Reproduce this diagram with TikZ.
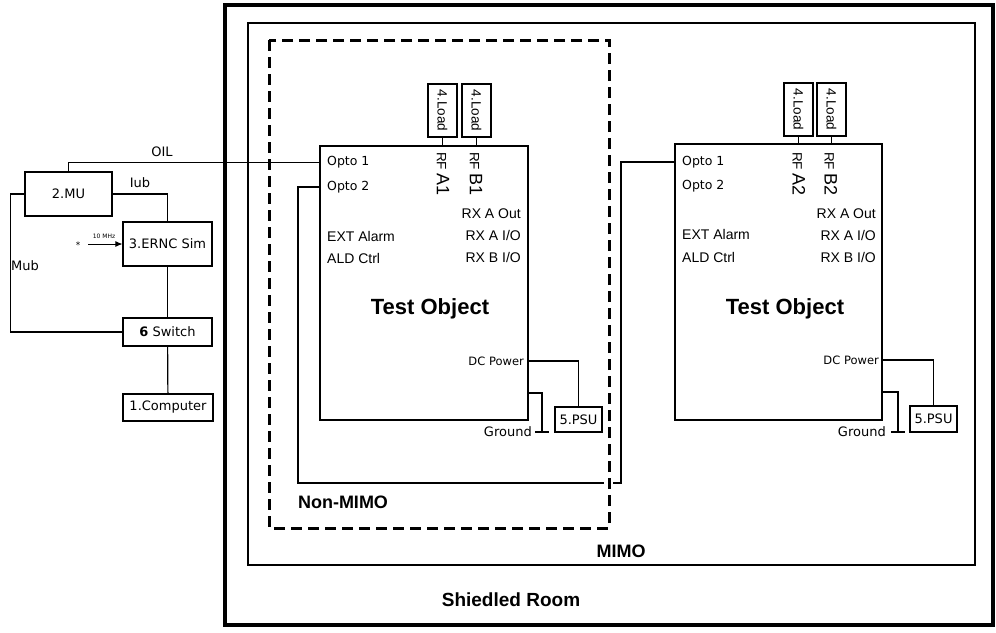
\documentclass[tikz,border=0pt]{standalone}
\usepackage{fontspec}
\setmainfont{Liberation Sans}
\newfontfamily\dv{DejaVu Sans}
\usetikzlibrary{arrows.meta}
\tikzset{
  box/.style={draw, line width=1.2pt, inner sep=0pt, fill=white},
  wire/.style={line width=1.2pt},
  thickwire/.style={line width=2.4pt},
  lbl/.style={inner sep=0pt, font=\dv\fontsize{13}{15}\selectfont},
  pin/.style={inner sep=0pt, font=\dv\fontsize{12.5}{14}\selectfont},
  apin/.style={inner sep=0pt, font=\fontsize{14}{16}\selectfont},
  small/.style={inner sep=0pt, font=\dv\fontsize{11.5}{13}\selectfont},
  title/.style={inner sep=0pt, font=\bfseries\fontsize{22}{24}\selectfont},
  region/.style={inner sep=0pt, font=\bfseries\fontsize{18}{20}\selectfont},
  loadtxt/.style={inner sep=0pt, rotate=-90, font=\fontsize{13.5}{15}\selectfont},
  rftxt/.style={inner sep=0pt, rotate=-90, anchor=west, font=\fontsize{13.5}{15}\selectfont},
}
\newcommand{\bigA}[1]{{\fontsize{18}{18}\selectfont #1}}
\begin{document}
\begin{tikzpicture}[x=1pt,y=-1pt]
\useasboundingbox (0,0) rectangle (996,632);

% enclosures
\draw[line width=3.2pt] (225,5) rectangle (993,625);
\draw[line width=2.4pt] (248,23) rectangle (975,565);

% left test object
\node[box, minimum width=208pt, minimum height=274pt] (ltest) at (424,283) {};
\node[box, minimum width=29pt, minimum height=53pt] (lload1) at (442.5,110.5) {};
\node[box, minimum width=29pt, minimum height=53pt] (lload2) at (476.5,110.5) {};
\node[loadtxt] at (lload1) {4.Load};
\node[loadtxt] at (lload2) {4.Load};
\draw[line width=1.6pt] (lload1.south) -- (lload1.south |- ltest.north);
\draw[line width=1.6pt] (lload2.south) -- (lload2.south |- ltest.north);
\node[rftxt] (lrfa) at (443,152) {RF \bigA{A1}};
\node[rftxt] (lrfb) at (476,152) {RF \bigA{B1}};
\node[pin, anchor=west] (lo1) at (327,162) {Opto 1};
\node[pin, anchor=west] (lo2) at (327,187) {Opto 2};
\node[apin, anchor=west] (lext) at (327,236) {EXT Alarm};
\node[apin, anchor=west] (lald) at (327,258) {ALD Ctrl};
\node[apin, anchor=east] (lrxo) at (521,214) {RX A Out};
\node[apin, anchor=east] (lrxa) at (521,235) {RX A I/O};
\node[apin, anchor=east] (lrxb) at (521,257) {RX B I/O};
\node[title] (lto) at (430,309) {Test Object};
\node[small, anchor=east] (ldc) at (524,361) {DC Power};
\node[box, minimum width=47pt, minimum height=25pt] (lpsu) at (578.5,419.5) {};
\node[lbl] at (lpsu) {5.PSU};
\node[pin, anchor=east, font=\dv\fontsize{13}{14}\selectfont] (lgndt) at (532,432) {Ground};
\coordinate (lgnd) at (542,432);
\draw[wire] (ltest.east |- ldc) -| (lpsu.north);
\draw[wire] (ltest.east |- 0,393) -| (lgnd);
\draw[wire] (535,432) -- (549,432);

% right test object
\node[box, minimum width=207pt, minimum height=276pt] (rtest) at (778.5,282) {};
\node[box, minimum width=29pt, minimum height=53pt] (rload1) at (798.5,109.5) {};
\node[box, minimum width=29pt, minimum height=53pt] (rload2) at (831.5,109.5) {};
\node[loadtxt] at (rload1) {4.Load};
\node[loadtxt] at (rload2) {4.Load};
\draw[line width=1.6pt] (rload1.south) -- (rload1.south |- rtest.north);
\draw[line width=1.6pt] (rload2.south) -- (rload2.south |- rtest.north);
\node[rftxt] (rrfa) at (799,152) {RF \bigA{A2}};
\node[rftxt] (rrfb) at (831,152) {RF \bigA{B2}};
\node[pin, anchor=west] (ro1) at (682,162) {Opto 1};
\node[pin, anchor=west] (ro2) at (682,186) {Opto 2};
\node[apin, anchor=west] (rext) at (682,234) {EXT Alarm};
\node[apin, anchor=west] (rald) at (682,257) {ALD Ctrl};
\node[apin, anchor=east] (rrxo) at (876,214) {RX A Out};
\node[apin, anchor=east] (rrxa) at (876,235) {RX A I/O};
\node[apin, anchor=east] (rrxb) at (876,257) {RX B I/O};
\node[title] (rto) at (785,309) {Test Object};
\node[small, anchor=east] (rdc) at (879,360) {DC Power};
\node[box, minimum width=47pt, minimum height=26pt] (rpsu) at (933.5,419) {};
\node[lbl] at (rpsu) {5.PSU};
\node[pin, anchor=east, font=\dv\fontsize{13}{14}\selectfont] (rgndt) at (886,432) {Ground};
\coordinate (rgnd) at (898,432);
\draw[wire] (rtest.east |- rdc) -| (rpsu.north);
\draw[wire] (rtest.east |- 0,392) -| (rgnd);
\draw[wire] (891,432) -- (905,432);

% left equipment
\node[box, minimum width=87pt, minimum height=44pt] (mu) at (68.5,194) {};
\node[lbl] at (mu) {2.MU};
\node[box, minimum width=89pt, minimum height=44pt] (ernc) at (167.5,244) {};
\node[lbl] at (ernc) {3.ERNC Sim};
\node[box, minimum width=89pt, minimum height=28pt] (sw) at (167.5,332) {};
\node[lbl] at (sw) {{\bfseries 6} Switch};
\node[box, minimum width=90pt, minimum height=27pt] (comp) at (168,407.5) {};
\node[lbl] at (comp) {1.Computer};

\draw[line width=0.9pt] (mu.north) |- (ltest.west |- lo1);
\node[lbl] (oil) at (162,152) {OIL};
\draw[wire] (mu.east) -| (ernc.north);
\node[lbl] (iub) at (140,183) {Iub};
\draw[wire] (mu.west) -- ++(-14,0) |- (sw.west);
\node[lbl] (mub) at (25,266) {Mub};
\draw[wire] (ernc) -- (sw);
\draw[wire] (sw) -- (comp);
\coordinate (clk) at (88,244);
\draw[line width=0.8pt, -{Latex[length=7pt,width=6pt]}] (clk) -- (ernc.west);
\node[inner sep=0pt, font=\dv\fontsize{9}{10}\selectfont] (star) at (78,245) {*};
\node[inner sep=0pt, font=\dv\fontsize{6}{7}\selectfont] (mhz) at (104,236) {10 MHz};

% MIMO link
\draw[thickwire] (ltest.west |- lo2) -| (298,483) -| (621,162) -- (rtest.west |- ro1);
\fill[white] (604,478) rectangle (613,488);

% non-MIMO dashed region
\draw[line width=3pt, dash pattern=on 11pt off 6pt] (269,40) rectangle (609,528);

\node[region] (nm) at (343,502) {Non-MIMO};
\node[region] (mimo) at (621,551) {MIMO};
\node[region, font=\bfseries\fontsize{19}{21}\selectfont] (sr) at (511,600) {Shiedled Room};
\end{tikzpicture}
\end{document}
